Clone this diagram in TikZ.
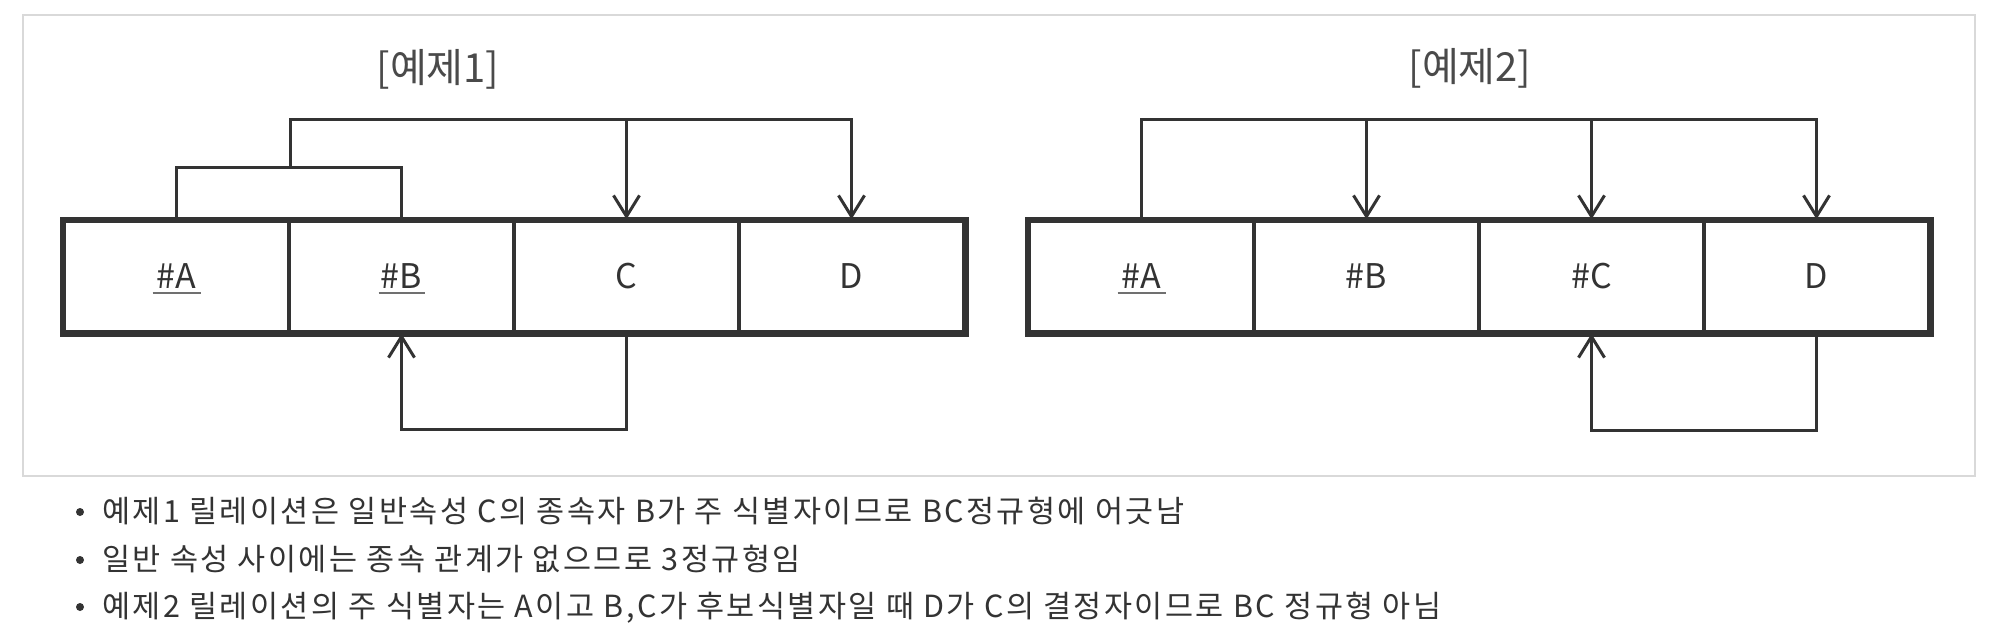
\documentclass[tikz,border=0pt]{standalone}
\usepackage{fontspec}
\setmainfont{Noto Sans CJK KR}
\newfontfamily\notefont[LetterSpace=8]{Noto Sans CJK KR}
\usetikzlibrary{arrows.meta}
\definecolor{ink}{HTML}{333333}
\definecolor{framec}{HTML}{D9D9D9}
\definecolor{titlec}{HTML}{4A4A4A}
\begin{document}
\begin{tikzpicture}[x=1pt,y=-1pt,
  cell/.style={draw=ink, line width=3.5pt, minimum width=225pt, minimum height=111pt,
    inner sep=0pt, font=\fontsize{34}{40}\selectfont, text=ink},
  outer/.style={draw=ink, line width=5.5pt},
  conn/.style={draw=ink, line width=3pt},
  arr/.style={conn, -{Straight Barb[length=21pt,width=26pt]}},
  uline/.style={draw=ink!70, line width=1.6pt},
  titlebox/.style={font=\fontsize{40}{46}\selectfont, text=titlec, inner sep=0pt},
  bullettext/.style={font=\notefont\fontsize{30.5}{36}\selectfont, text=ink, inner sep=0pt, anchor=base west}]
\useasboundingbox (0,0) rectangle (2000,632);
\fill[white] (0,0) rectangle (2000,632);
\draw[framec, line width=2pt] (23,15) rectangle (1975,476);

% ---- Example 1 ----
\node[titlebox] (t1) at (438,69) {[예제1]};
\node[cell] (a1) at (176.5,276.5) {\#A};
\node[cell] (b1) at (401.5,276.5) {\#B};
\node[cell] (c1) at (626.5,276.5) {C};
\node[cell] (d1) at (851.5,276.5) {D};
\draw[outer] (a1.north west) rectangle (d1.south east);
\draw[uline] ([xshift=-24pt,yshift=-4pt]a1.base) -- ([xshift=24pt,yshift=-4pt]a1.base);
\draw[uline] ([xshift=-23pt,yshift=-4pt]b1.base) -- ([xshift=23pt,yshift=-4pt]b1.base);

\draw[conn] (a1.north) -- ++(0,-52) -| (b1.north);
\path (a1.north east) ++(0,-52) coordinate (k1);
\draw[arr] (k1) -- ++(0,-48) coordinate (k2) -| (d1.north);
\draw[arr] (k2 -| c1.north) -- (c1.north);
\draw[arr] (c1.south) -- ++(0,96) -| (b1.south);

% ---- Example 2 ----
\node[titlebox] (t2) at (1470,68) {[예제2]};
\node[cell] (a2) at (1141.5,276.5) {\#A};
\node[cell] (b2) at (1366.5,276.5) {\#B};
\node[cell] (c2) at (1591.5,276.5) {\#C};
\node[cell] (d2) at (1816.5,276.5) {D};
\draw[outer] (a2.north west) rectangle (d2.south east);
\draw[uline] ([xshift=-24pt,yshift=-4pt]a2.base) -- ([xshift=24pt,yshift=-4pt]a2.base);

\draw[arr] (a2.north) -- ++(0,-100) coordinate (m2) -| (d2.north);
\draw[arr] (m2 -| b2.north) -- (b2.north);
\draw[arr] (m2 -| c2.north) -- (c2.north);
\draw[arr] (d2.south) -- ++(0,97) -| (c2.south);

% ---- Notes ----
\fill[ink] (80,512) circle (4pt);
\fill[ink] (80,560) circle (4pt);
\fill[ink] (80,607) circle (4pt);
\node[bullettext] (n1) at (102,522) {예제1 릴레이션은 일반속성 C의 종속자 B가 주 식별자이므로 BC정규형에 어긋남};
\node[bullettext] (n2) at (102,570) {일반 속성 사이에는 종속 관계가 없으므로 3정규형임};
\node[bullettext] (n3) at (102,617) {예제2 릴레이션의 주 식별자는 A이고 B,C가 후보식별자일 때 D가 C의 결정자이므로 BC 정규형 아님};
\end{tikzpicture}
\end{document}
